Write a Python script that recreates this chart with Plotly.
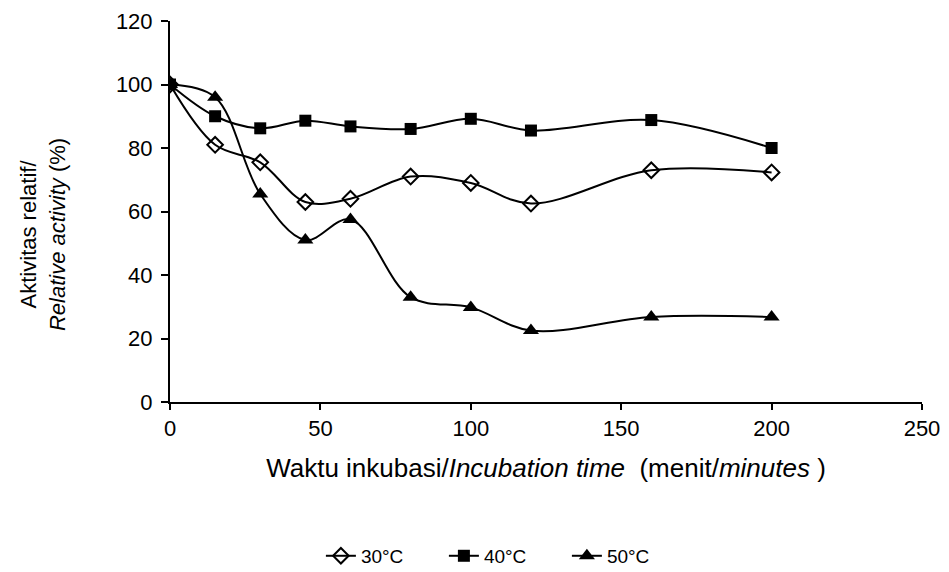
import plotly.graph_objects as go

time_min = [0, 15, 30, 45, 60, 80, 100, 120, 160, 200]
act_30 = [100, 81, 75.5, 63, 64, 71, 69, 62.5, 73, 72.3]
act_40 = [100, 90, 86.2, 88.6, 86.8, 86, 89.2, 85.5, 88.8, 80]
act_50 = [100, 96, 65.5, 51, 57.5, 33, 29.8, 22.5, 26.8, 26.8]

series = [
    ("30°C", act_30, dict(symbol="diamond-open", size=12, color="black", line=dict(width=2, color="black"))),
    ("40°C", act_40, dict(symbol="square", size=12, color="black")),
    ("50°C", act_50, dict(symbol="triangle-up", size=14, color="black")),
]

fig = go.Figure()
for name, vals, mk in series:
    fig.add_trace(go.Scatter(
        x=time_min, y=vals, name=name, mode="lines+markers",
        line=dict(color="black", width=2, shape="spline", smoothing=1.0),
        marker=mk,
    ))

fam = "Liberation Sans, Arial, sans-serif"

fig.update_layout(
    width=949, height=572,
    margin=dict(l=170, r=27, t=21, b=170, autoexpand=False),
    paper_bgcolor="white", plot_bgcolor="white",
    font=dict(family=fam, size=22, color="black"),
    showlegend=True,
    legend=dict(orientation="h", x=0.446, xanchor="center", y=-0.404, yanchor="middle",
                font=dict(family=fam, size=19, color="black"), tracegroupgap=0,
                entrywidth=78),
    xaxis=dict(range=[0, 250], tickvals=[0, 50, 100, 150, 200, 250],
               showline=True, linecolor="black", linewidth=2,
               ticks="outside", ticklen=6, tickwidth=2, tickcolor="black",
               tickfont=dict(family=fam, size=22, color="black"),
               showgrid=False, zeroline=False,
               title=dict(text="Waktu inkubasi/<i>Incubation time</i>  (menit/<i>minutes</i> )",
                          standoff=18, font=dict(family=fam, size=26, color="black"))),
    yaxis=dict(range=[0, 120], tickvals=[0, 20, 40, 60, 80, 100, 120],
               showline=True, linecolor="black", linewidth=2,
               ticks="outside", ticklen=7, tickwidth=2, tickcolor="black",
               tickfont=dict(family=fam, size=22, color="black"),
               ticklabelstandoff=4,
               showgrid=False, zeroline=False),
    annotations=[dict(
        text="Aktivitas relatif/<br><i>Relative activity</i> (%)",
        xref="paper", yref="paper", x=-0.168, y=0.44,
        xanchor="center", yanchor="middle", textangle=-90, showarrow=False,
        font=dict(family=fam, size=22, color="black"),
    )],
)

fig.write_html("out.html")
